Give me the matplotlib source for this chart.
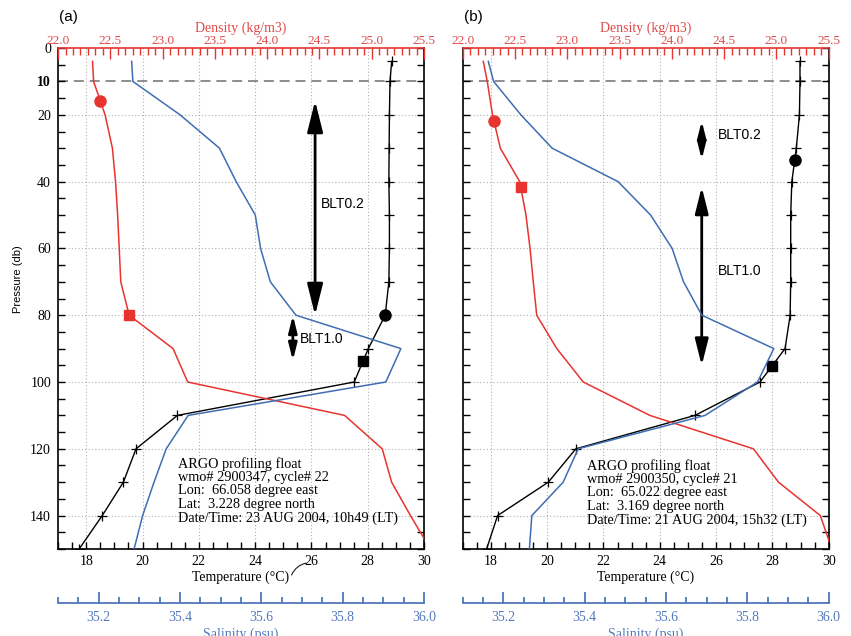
import numpy as np
import matplotlib.pyplot as plt
from matplotlib.ticker import MultipleLocator, FormatStrFormatter

plt.rcParams['font.family'] = ['Liberation Serif', 'DejaVu Serif']
plt.rcParams['font.size'] = 10

RED = '#e8342f'
RED_TXT = '#e04a4a'
BLUE = '#3f6db4'
BLUE_TXT = '#5579bd'

# pressure levels (db) of the profiles
pres = [4, 10, 20, 30, 40, 50, 60, 70, 80, 90, 100, 110, 120, 130, 140, 150]

# (a) float 2900347, cycle 22
temp_a = [28.85, 28.79, 28.77, 28.76, 28.75, 28.77, 28.77, 28.75, 28.62, 28.02,
          27.52, 21.24, 19.77, 19.32, 18.57, 17.75]
dens_a = [22.33, 22.34, 22.45, 22.52, 22.55, 22.57, 22.585, 22.60, 22.68, 23.10,
          23.24, 24.74, 25.10, 25.19, 25.37, 25.56]
sal_a = [35.281, 35.284, 35.400, 35.497, 35.538, 35.585, 35.598, 35.622, 35.685,
         35.943, 35.906, 35.420, 35.366, 35.336, 35.308, 35.287]
# mixed layer depth (density) and isothermal layer depth, criteria 0.2 and 1.0
mld_a = [15.8, 80.0]
ild_a = [80.0, 93.6]
info_a = ["ARGO profiling float", "wmo# 2900347, cycle# 22",
          "Lon:  66.058 degree east", "Lat:  3.228 degree north",
          "Date/Time: 23 AUG 2004, 10h49 (LT)"]

# (b) float 2900350, cycle 21
temp_b = [28.98, 28.98, 28.96, 28.85, 28.69, 28.65, 28.65, 28.65, 28.63, 28.45,
          27.56, 25.25, 21.02, 20.04, 18.24, 17.85]
dens_b = [22.197, 22.235, 22.285, 22.36, 22.545, 22.605, 22.644, 22.675, 22.708,
          22.90, 23.153, 23.79, 24.78, 25.02, 25.42, 25.53]
sal_b = [35.163, 35.176, 35.243, 35.320, 35.482, 35.562, 35.615, 35.643, 35.688,
         35.865, 35.825, 35.696, 35.384, 35.347, 35.270, 35.264]
mld_b = [21.8, 41.6]
ild_b = [33.4, 95.1]
info_b = ["ARGO profiling float", "wmo# 2900350, cycle# 21",
          "Lon:  65.022 degree east", "Lat:  3.169 degree north",
          "Date/Time: 21 AUG 2004, 15h32 (LT)"]

fig = plt.figure(figsize=(8.51, 6.36), dpi=100)


def blt_arrow(ax, x, p1, p2, head):
    ax.annotate('', xy=(x, p2), xytext=(x, p1),
                arrowprops=dict(arrowstyle=f'<|-|>,head_length={head},head_width={head * 0.25}',
                                color='k', lw=2, shrinkA=0, shrinkB=0))


def panel(left, temp, dens, sal, mld, ild, info, info_xy, tag, arrows, labels_left, stroke):
    ax = fig.add_axes([left, 0.1368, 0.4301, 0.7877])
    ax.set_xlim(17, 30)
    ax.set_ylim(150, 0)

    # grid
    for t in range(18, 30, 2):
        ax.axvline(t, color='#b0b0b0', ls=(0, (1, 2)), lw=0.8, zorder=0)
    for p in range(20, 150, 20):
        ax.axhline(p, color='#b0b0b0', ls=(0, (1, 2)), lw=0.8, zorder=0)
    ax.axhline(10, color='#7a7a7a', ls=(0, (6, 3.5)), lw=1.2, zorder=0)

    # temperature
    ax.plot(temp, pres, color='k', lw=1.0, marker='+', ms=6.5, mew=0.9)
    ax.plot(np.interp(ild[0], pres, temp), ild[0], 'o', color='k', ms=8)
    ax.plot(np.interp(ild[1], pres, temp), ild[1], 's', color='k', ms=7)

    ax.set_xticks(range(18, 31, 2))
    ax.xaxis.set_minor_locator(MultipleLocator(0.5))
    ax.set_yticks([0, 10, 20, 40, 60, 80, 100, 120, 140])
    ax.yaxis.set_minor_locator(MultipleLocator(5))
    ax.tick_params(axis='x', which='both', direction='in', top=False, length=5, width=1, pad=4)
    ax.tick_params(axis='y', which='both', direction='in', left=True, right=True,
                   length=5, width=1, labelleft=labels_left, pad=5)
    if labels_left:
        for lab in ax.get_yticklabels():
            if lab.get_text() == '10':
                lab.set_fontweight('bold')
    ax.set_xlabel('Temperature (°C)', labelpad=2)
    for s in ['left', 'right', 'bottom']:
        ax.spines[s].set_linewidth(1.2)
    ax.spines['top'].set_visible(False)

    # density
    axd = ax.twiny()
    axd.set_xlim(22, 25.5)
    axd.plot(dens, pres, color=RED, lw=1.1)
    axd.plot(np.interp(mld[0], pres, dens), mld[0], 'o', color=RED, ms=8)
    axd.plot(np.interp(mld[1], pres, dens), mld[1], 's', color=RED, ms=7)
    axd.set_xticks(np.arange(22, 25.51, 0.5))
    axd.xaxis.set_major_formatter(FormatStrFormatter('%.1f'))
    axd.xaxis.set_minor_locator(MultipleLocator(0.5 / 7))
    axd.tick_params(axis='x', which='major', direction='in', length=8, width=1,
                    color=RED, labelcolor=RED_TXT, pad=0.5, labelsize=9.5)
    axd.tick_params(axis='x', which='minor', direction='in', length=5, width=1, color=RED)
    axd.set_xlabel('Density (kg/m3)', color=RED_TXT, labelpad=2.5)
    axd.spines['top'].set_color(RED)
    axd.spines['top'].set_linewidth(1.2)
    for s in ['left', 'right', 'bottom']:
        axd.spines[s].set_visible(False)

    # salinity
    axs = ax.twiny()
    axs.set_xlim(35.1, 36.0)
    axs.plot(sal, pres, color=BLUE, lw=1.1)
    axs.xaxis.set_ticks_position('bottom')
    axs.xaxis.set_label_position('bottom')
    axs.spines['bottom'].set_position(('outward', 39))
    axs.spines['bottom'].set_color(BLUE)
    axs.spines['bottom'].set_linewidth(1.2)
    for s in ['left', 'right', 'top']:
        axs.spines[s].set_visible(False)
    axs.set_xticks(np.arange(35.2, 36.01, 0.2))
    axs.xaxis.set_major_formatter(FormatStrFormatter('%.1f'))
    axs.xaxis.set_minor_locator(MultipleLocator(0.05))
    axs.tick_params(axis='x', which='major', direction='in', length=8, width=1.2,
                    color=BLUE, labelcolor=BLUE_TXT, pad=6)
    axs.tick_params(axis='x', which='minor', direction='in', length=4, width=1.2, color=BLUE)
    axs.set_xlabel('Salinity (psu)', color=BLUE_TXT, labelpad=2)

    # barrier layer thickness arrows
    for x, p1, p2, head, txt, tx, ty in arrows:
        blt_arrow(ax, x, p1, p2, head)
        ax.text(tx, ty, txt, family='Liberation Sans', fontsize=10, va='center')

    # float information
    for i, line in enumerate(info):
        ax.annotate(line, xy=info_xy, xytext=(0, -9.7 * i), textcoords='offset points',
                    fontsize=10.3, va='top', ha='left')

    if stroke:
        ax.annotate('', xy=(0.678, -0.028), xytext=(0.638, -0.052), xycoords='axes fraction',
                    arrowprops=dict(arrowstyle='-', lw=0.7, shrinkA=0, shrinkB=0,
                                    connectionstyle='arc3,rad=-0.25'))

    fig.text(left + 0.012, 1 - 17 / 636, tag, family='Liberation Sans', fontsize=11,
             ha='center', va='center')
    return ax


panel(0.0682, temp_a, dens_a, sal_a, mld_a, ild_a, info_a, (21.25, 122.6), '(a)',
      [(26.13, mld_a[0], ild_a[0], 1.9, 'BLT0.2', 26.35, 46.6),
       (25.34, mld_a[1], ild_a[1], 1.0, 'BLT1.0', 25.6, 87.1)],
      True, True)
panel(0.5437, temp_b, dens_b, sal_b, mld_b, ild_b, info_b, (21.40, 123.2), '(b)',
      [(25.49, mld_b[0], ild_b[0], 1.0, 'BLT0.2', 26.05, 26.1),
       (25.49, mld_b[1], ild_b[1], 1.6, 'BLT1.0', 26.05, 66.8)],
      False, False)

fig.text(18 / 851, 1 - 279 / 636, 'Pressure (db)', family='Liberation Sans', fontsize=8,
         rotation=90, ha='center', va='center')

fig.savefig('out.png', dpi=100)
